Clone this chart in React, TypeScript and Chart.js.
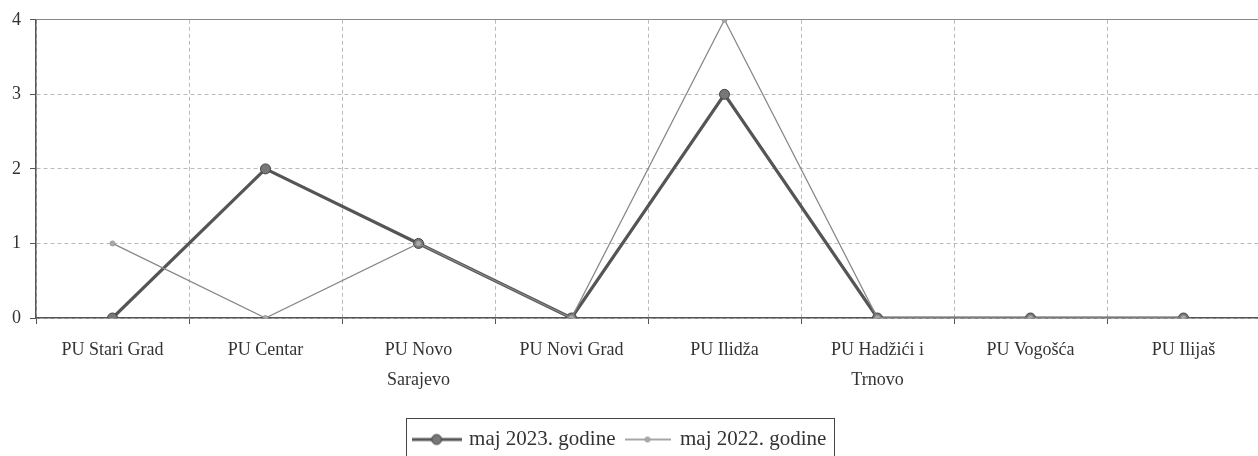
import React, { useEffect, useRef } from 'react';
import { Chart, registerables } from 'chart.js';

Chart.register(...registerables);

const categories: (string | string[])[] = [
  'PU Stari Grad',
  'PU Centar',
  ['PU Novo', 'Sarajevo'],
  'PU Novi Grad',
  'PU Ilidža',
  ['PU Hadžići i', 'Trnovo'],
  'PU Vogošća',
  'PU Ilijaš',
];
const series2023 = [0, 2, 1, 0, 3, 0, 0, 0];
const series2022 = [1, 0, 1, 0, 4, 0, 0, 0];
const seriesLabels = ['maj 2023. godine', 'maj 2022. godine'];
const yMin = 0;
const yMax = 4;
const yStep = 1;

const FONT = "'Liberation Serif', 'Times New Roman', serif";

function makeSymbol(w: number, lineW: number, lineColor: string, r: number, fill: string, stroke: string) {
  const c = document.createElement('canvas');
  c.width = w;
  c.height = 14;
  const g = c.getContext('2d')!;
  g.strokeStyle = lineColor;
  g.lineWidth = lineW;
  g.beginPath();
  g.moveTo(0, 7);
  g.lineTo(w, 7);
  g.stroke();
  g.beginPath();
  g.arc(w / 2, 7, r, 0, Math.PI * 2);
  g.fillStyle = fill;
  g.fill();
  g.strokeStyle = stroke;
  g.lineWidth = 1;
  g.stroke();
  return c;
}

const legendBorder = {
  id: 'legendBorder',
  afterDraw(chart: any) {
    const lg = chart.legend;
    if (!lg || !lg.legendHitBoxes || !lg.legendHitBoxes.length) return;
    const hb = lg.legendHitBoxes;
    const left = Math.min(...hb.map((h: any) => h.left)) - 9;
    const right = Math.max(...hb.map((h: any) => h.left + h.width)) + 7;
    const top = hb[0].top - 11;
    const ctx = chart.ctx;
    ctx.save();
    ctx.strokeStyle = '#444';
    ctx.lineWidth = 1;
    ctx.strokeRect(Math.round(left) + 0.5, Math.round(top) + 0.5, Math.round(right - left), chart.height - top + 5);
    ctx.restore();
  },
};

export default function App() {
  const ref = useRef<HTMLCanvasElement>(null);
  useEffect(() => {
    if (!ref.current) return;
    const symbols = [
      makeSymbol(50, 3, '#555', 5, '#777', '#444'),
      makeSymbol(46, 1.3, '#888', 2.5, '#aaa', '#999'),
    ];
    const chart = new Chart(ref.current, {
      type: 'line',
      data: {
        labels: categories,
        datasets: [
          {
            label: seriesLabels[0],
            data: series2023,
            borderColor: '#555',
            borderWidth: 3.2,
            pointRadius: 5,
            pointBackgroundColor: '#777',
            pointBorderColor: '#444',
            pointBorderWidth: 1,
            tension: 0,
            order: 2,
          },
          {
            label: seriesLabels[1],
            data: series2022,
            borderColor: '#888',
            borderWidth: 1.3,
            pointRadius: 2.5,
            pointBackgroundColor: '#aaa',
            pointBorderColor: '#999',
            pointBorderWidth: 1,
            tension: 0,
            order: 1,
          },
        ],
      },
      plugins: [legendBorder],
      options: {
        responsive: false,
        animation: false,
        devicePixelRatio: 1,
        layout: { padding: { left: -25, right: 0, top: 19, bottom: -4 } },
        plugins: {
          tooltip: { enabled: false },
          legend: {
            position: 'bottom',
            labels: {
              usePointStyle: true,
              pointStyleWidth: 44,
              padding: 10,
              color: '#333',
              font: { family: FONT, size: 21 },
              generateLabels: (ch: any) => {
                const items = Chart.defaults.plugins.legend.labels.generateLabels(ch);
                items.sort((a: any, b: any) => a.datasetIndex - b.datasetIndex);
                items.forEach((it: any) => {
                  it.pointStyle = symbols[it.datasetIndex];
                });
                return items;
              },
            },
          },
        },
        scales: {
          x: {
            type: 'category',
            offset: true,
            afterFit: (s: any) => {
              s.height = 101;
            },
            grid: {
              offset: true,
              color: '#bbb',
              lineWidth: 1,
              tickLength: 6,
              tickColor: '#555',
              tickBorderDash: [],
            },
            border: { display: true, color: '#555', width: 1.5, dash: [4, 3] },
            ticks: {
              color: '#333',
              padding: 11,
              maxRotation: 0,
              autoSkip: false,
              font: { family: FONT, size: 18, lineHeight: 1.667 },
            },
          },
          y: {
            min: yMin,
            max: yMax,
            afterFit: (s: any) => {
              s.width = 61;
            },
            grid: {
              color: (c: any) => (c.tick && c.tick.value === yMax ? '#888' : '#bbb'),
              lineWidth: 1,
              tickLength: 6,
              tickColor: '#555',
              tickBorderDash: [],
            },
            border: {
              display: true,
              color: '#555',
              width: 1.5,
              dash: (c: any) => (c.tick && c.tick.value === yMax ? [] : [4, 3]),
            },
            ticks: {
              stepSize: yStep,
              color: '#333',
              padding: 9,
              font: { family: FONT, size: 18 },
            },
          },
        },
      } as any,
    });
    return () => chart.destroy();
  }, []);
  return (
    <div style={{ position: 'absolute', left: 0, top: 0, width: 1258, height: 456, overflow: 'hidden', background: '#fff' }}>
      <canvas ref={ref} width={1266} height={456} style={{ width: 1266, height: 456, display: 'block' }} />
    </div>
  );
}
